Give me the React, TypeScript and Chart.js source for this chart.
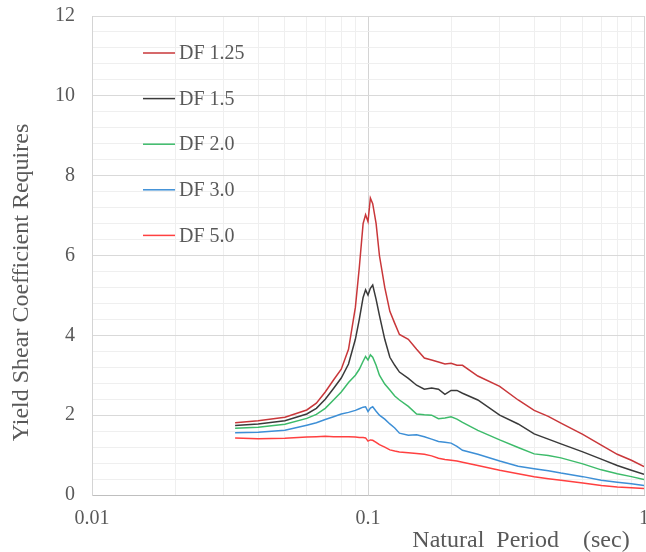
import React, { useEffect, useRef } from "react";
import { Chart, registerables } from "chart.js";

Chart.register(...registerables);

const periods = [
  0.033, 0.04, 0.05, 0.06, 0.065, 0.07, 0.075, 0.08, 0.085, 0.09, 0.093, 0.096, 0.098, 0.1,
  0.102, 0.104, 0.107, 0.11, 0.115, 0.12, 0.125, 0.13, 0.14, 0.15, 0.16, 0.17, 0.18, 0.19,
  0.2, 0.21, 0.22, 0.25, 0.3, 0.35, 0.4, 0.45, 0.5, 0.6, 0.7, 0.8, 0.9, 1.0,
];

const df125 = [
  1.81, 1.86, 1.95, 2.13, 2.3, 2.58, 2.88, 3.15, 3.65, 4.7, 5.7, 6.8, 7.02, 6.85,
  7.44, 7.3, 6.8, 6.0, 5.2, 4.6, 4.3, 4.02, 3.9, 3.65, 3.43, 3.38, 3.33, 3.28,
  3.3, 3.25, 3.25, 2.98, 2.72, 2.38, 2.12, 1.97, 1.8, 1.52, 1.25, 1.02, 0.87, 0.71,
];

const df15 = [
  1.74, 1.78, 1.86, 2.03, 2.17, 2.4, 2.67, 2.93, 3.28, 3.9, 4.4, 4.95, 5.14, 5.01,
  5.18, 5.26, 4.9, 4.5, 3.9, 3.45, 3.25, 3.08, 2.92, 2.75, 2.65, 2.68, 2.65, 2.52,
  2.62, 2.62, 2.55, 2.38, 2.0, 1.78, 1.53, 1.4, 1.28, 1.08, 0.9, 0.74, 0.62, 0.52,
];

const df20 = [
  1.67, 1.7, 1.77, 1.92, 2.02, 2.17, 2.38, 2.58, 2.82, 3.0, 3.15, 3.35, 3.47, 3.38,
  3.51, 3.45, 3.25, 3.0, 2.78, 2.63, 2.48, 2.38, 2.22, 2.03, 2.01, 2.0, 1.91, 1.93,
  1.96, 1.9, 1.82, 1.62, 1.38, 1.19, 1.03, 0.99, 0.93, 0.78, 0.63, 0.53, 0.46, 0.39,
];

const df30 = [
  1.56, 1.57, 1.62, 1.75, 1.81, 1.89, 1.96, 2.03, 2.07, 2.12, 2.16, 2.2, 2.21, 2.09,
  2.18, 2.21, 2.1, 2.0, 1.9, 1.78, 1.68, 1.55, 1.5, 1.51, 1.46, 1.4, 1.34, 1.32,
  1.3, 1.22, 1.12, 1.02, 0.85, 0.72, 0.66, 0.61, 0.55, 0.46, 0.37, 0.32, 0.28, 0.24,
];

const df50 = [
  1.43, 1.41, 1.42, 1.45, 1.46, 1.47, 1.46, 1.46, 1.46, 1.45, 1.44, 1.44, 1.43, 1.35,
  1.38, 1.37, 1.32, 1.26, 1.2, 1.13, 1.1, 1.08, 1.06, 1.04, 1.02, 0.98, 0.92, 0.89,
  0.87, 0.85, 0.82, 0.74, 0.62, 0.53, 0.46, 0.41, 0.37, 0.3, 0.24, 0.2, 0.18, 0.16,
];

const seriesLabels = ["DF 1.25", "DF 1.5", "DF 2.0", "DF 3.0", "DF 5.0"];
const seriesValues = [df125, df15, df20, df30, df50];
const seriesColors = ["#C9373A", "#3A3A3A", "#3DBB6A", "#3D8FD6", "#FF4040"];

const xDecades = [0.01, 0.1, 1];
const yMax = 12;
const yMinorStep = 0.4;
const yMajorStep = 2;

const xTitle = "Natural  Period    (sec)";
const yTitle = "Yield Shear Coefficient Requires";

const FONT = "'Liberation Serif', 'Times New Roman', serif";
const TEXT_COLOR = "#595959";

const isDecade = (v: number) => Math.abs(Math.log10(v) - Math.round(Math.log10(v))) < 1e-9;
const isMajorY = (v: number) => Math.abs(v / yMajorStep - Math.round(v / yMajorStep)) < 1e-6;

const overlayPlugin = {
  id: "overlay",
  afterDraw(chart: any) {
    const ctx = chart.ctx;
    const area = chart.chartArea;
    ctx.save();
    // legend inside plot
    ctx.font = `20px ${FONT}`;
    ctx.textBaseline = "middle";
    ctx.textAlign = "left";
    chart.data.datasets.forEach((ds: any, i: number) => {
      const y = area.top + 37 + i * 45.6;
      const x0 = area.left + 51;
      ctx.strokeStyle = ds.borderColor;
      ctx.lineWidth = 1.5;
      ctx.beginPath();
      ctx.moveTo(x0, y);
      ctx.lineTo(x0 + 32, y);
      ctx.stroke();
      ctx.fillStyle = TEXT_COLOR;
      ctx.fillText(ds.label, x0 + 36, y + 1);
    });
    // axis titles
    ctx.font = `24px ${FONT}`;
    ctx.fillStyle = TEXT_COLOR;
    ctx.textAlign = "center";
    ctx.textBaseline = "alphabetic";
    ctx.fillText(xTitle, area.left + 429, chart.height - 5);
    ctx.translate(22, (area.top + area.bottom) / 2 + 27);
    ctx.rotate(-Math.PI / 2);
    ctx.textBaseline = "middle";
    ctx.fillText(yTitle, 0, 0);
    ctx.restore();
  },
};

export default function App() {
  const ref = useRef<HTMLCanvasElement>(null);

  useEffect(() => {
    if (!ref.current) return;
    const chart = new Chart(ref.current, {
      type: "line",
      data: {
        datasets: seriesLabels.map((label, s) => ({
          label,
          data: periods.map((x, i) => ({ x, y: seriesValues[s][i] })),
          borderColor: seriesColors[s],
          backgroundColor: seriesColors[s],
          borderWidth: 1.5,
          pointRadius: 0,
          tension: 0,
          fill: false,
        })),
      },
      options: {
        animation: false,
        responsive: false,
        devicePixelRatio: 1,
        layout: { padding: { top: 16, right: 2, left: 0, bottom: 0 } },
        plugins: {
          legend: { display: false },
          tooltip: { enabled: false },
        },
        scales: {
          x: {
            type: "logarithmic",
            min: xDecades[0],
            max: xDecades[xDecades.length - 1],
            afterBuildTicks: (scale: any) => {
              const ticks: any[] = [];
              for (let d = 0; d < xDecades.length - 1; d++) {
                for (let m = 1; m <= 9; m++) ticks.push({ value: xDecades[d] * m });
              }
              ticks.push({ value: xDecades[xDecades.length - 1] });
              scale.ticks = ticks;
            },
            afterFit: (scale: any) => {
              scale.height = 57;
              scale.paddingRight = 0;
              scale.paddingLeft = 0;
            },
            ticks: {
              autoSkip: false,
              maxRotation: 0,
              padding: 12,
              color: TEXT_COLOR,
              font: { family: FONT, size: 20 },
              callback: (v: any) => (isDecade(Number(v)) ? String(Number(Number(v).toPrecision(3))) : ""),
            },
            grid: {
              drawTicks: false,
              color: (c: any) => (c.tick && isDecade(c.tick.value) ? "#d4d4d4" : "#efefef"),
              lineWidth: 1,
            },
            border: { color: "#bfbfbf", width: 1 },
          },
          y: {
            type: "linear",
            min: 0,
            max: yMax,
            afterBuildTicks: (scale: any) => {
              const n = Math.round(yMax / yMinorStep);
              scale.ticks = Array.from({ length: n + 1 }, (_, i) => ({ value: i * yMinorStep }));
            },
            afterFit: (scale: any) => {
              scale.width = 92;
              scale.paddingTop = 0;
              scale.paddingBottom = 0;
            },
            ticks: {
              autoSkip: false,
              padding: 17,
              color: TEXT_COLOR,
              font: { family: FONT, size: 20 },
              callback: (v: any) => (isMajorY(Number(v)) ? String(Math.round(Number(v))) : ""),
            },
            grid: {
              drawTicks: false,
              color: (c: any) => (c.tick && isMajorY(c.tick.value) ? "#d9d9d9" : "#efefef"),
              lineWidth: 1,
            },
            border: { color: "#d4d4d4", width: 1 },
          },
        },
      },
      plugins: [overlayPlugin],
    } as any);
    return () => chart.destroy();
  }, []);

  return (
    <div style={{ position: "fixed", left: 0, top: 0, width: 646, height: 552, background: "#fff" }}>
      <canvas ref={ref} width={646} height={552} style={{ width: 646, height: 552, display: "block" }} />
    </div>
  );
}
